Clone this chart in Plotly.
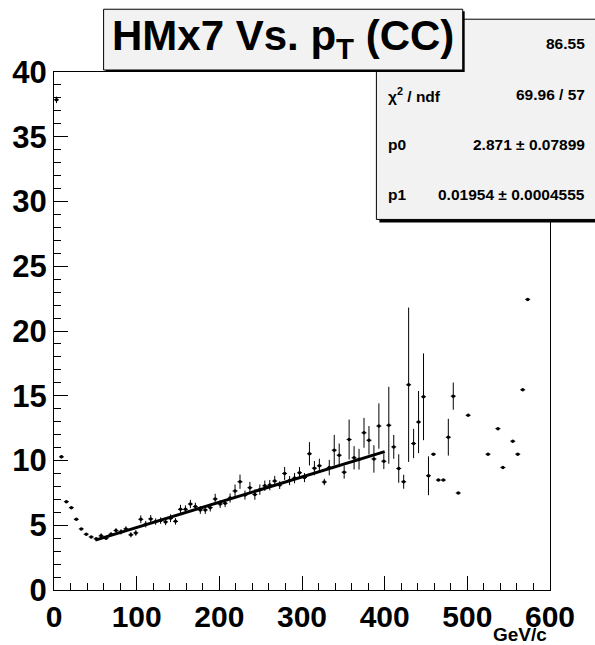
import numpy as np
import plotly.graph_objects as go

# ---- data (bin centres in GeV/c, HMx7 mean, error) ----
pt_center = [3, 9, 15, 21, 27, 33, 39, 45, 51, 57, 63, 69, 75, 81, 87, 93, 99, 105, 111, 117,
             123, 129, 135, 141, 147, 153, 159, 165, 171, 177, 183, 189, 195, 201, 207, 213, 219, 225, 231, 237,
             243, 249, 255, 261, 267, 273, 279, 285, 291, 297, 303, 309, 315, 321, 327, 333, 339, 345, 351, 357,
             363, 369, 375, 381, 387, 393, 399, 405, 411, 417, 423, 429, 435, 441, 447, 453, 459, 465, 471, 477,
             483, 489, 501, 525, 537, 543, 555, 561, 567, 573]
hmx7 = [37.85, 10.28, 6.82, 6.36, 5.46, 4.72, 4.31, 4.10, 3.95, 4.18, 4.00, 4.31, 4.59, 4.49, 4.72, 4.26, 4.41, 5.46, 5.08, 5.49,
        5.28, 5.36, 5.26, 5.54, 5.30, 6.23, 6.23, 6.64, 6.44, 6.18, 6.18, 6.36, 7.03, 6.64, 6.70, 7.10, 7.65, 8.36, 7.33, 7.90,
        7.37, 7.75, 8.05, 8.10, 8.41, 8.10, 9.00, 8.45, 8.64, 9.05, 8.68, 10.52, 9.41, 9.59, 8.34, 9.45, 10.80, 10.41, 9.10, 11.62,
        10.21, 10.10, 12.14, 11.56, 10.12, 12.66, 9.94, 12.72, 11.05, 9.38, 8.36, 15.85, 11.31, 12.97, 14.92, 8.82, 10.49, 8.49, 8.49, 11.80,
        14.97, 7.49, 13.49, 10.49, 12.46, 9.46, 11.49, 10.49, 15.46, 22.44]
hmx7_err = [0.25, 0.12, 0.08, 0.07, 0.06, 0.06, 0.05, 0.06, 0.08, 0.2, 0.12, 0.15, 0.18, 0.2, 0.2, 0.2, 0.22, 0.3, 0.25, 0.3,
            0.25, 0.25, 0.25, 0.3, 0.25, 0.35, 0.3, 0.32, 0.3, 0.3, 0.3, 0.3, 0.4, 0.3, 0.3, 0.35, 0.5, 0.55, 0.35, 0.45,
            0.4, 0.4, 0.4, 0.4, 0.4, 0.3, 0.5, 0.35, 0.4, 0.45, 0.35, 0.9, 0.55, 0.55, 0.25, 0.6, 1.18, 0.9, 0.5, 1.54,
            0.9, 0.8, 1.15, 1.1, 1.06, 1.75, 0.6, 2.97, 0.92, 1.1, 0.54, 5.96, 1.13, 2.4, 3.35, 1.5, 0.0, 0.0, 0.0, 1.42,
            1.05, 0.0, 0.0, 0.0, 0.0, 0.0, 0.0, 0.0, 0.0, 0.0]
bin_half_width = 3

# fit parameters
p0, p1 = 2.871, 0.01954
fit_range = [50, 400]

x_ticks = [0, 100, 200, 300, 400, 500, 600]
y_ticks = [0, 5, 10, 15, 20, 25, 30, 35, 40]

stats_rows = [("", "86.55"),
              ("\u03c7<sup>2</sup> / ndf", "69.96 / 57"),
              ("p0", "2.871 \u00b1 0.07899"),
              ("p1", "0.01954 \u00b1 0.0004555")]
title_text = "<b>HMx7 Vs. p<sub>T</sub> (CC)</b>"
x_title = "<b>GeV/c</b>"

# ---- layout geometry (pixels) ----
W, H = 595, 645
L, R, T, B = 50, 550, 72, 592
FONT = "Liberation Sans, Arial, Helvetica, sans-serif"


def px(xp):
    return (xp - L) / (R - L)


def py(yp):
    return (B - yp) / (B - T)


fig = go.Figure()

fig.add_trace(go.Scatter(
    x=pt_center, y=hmx7, mode="markers",
    marker=dict(color="black", size=3.5, symbol="circle"),
    error_x=dict(type="constant", value=bin_half_width, color="black", thickness=1, width=0),
    error_y=dict(type="data", array=hmx7_err, color="black", thickness=1, width=0),
    showlegend=False, hoverinfo="x+y"))

xf = np.linspace(fit_range[0], fit_range[1], 50)
fig.add_trace(go.Scatter(x=xf, y=p0 + p1 * xf, mode="lines",
                         line=dict(color="black", width=3), showlegend=False))

axis_common = dict(showgrid=False, zeroline=False, showline=True, linecolor="black", linewidth=1,
                   mirror=True, ticks="inside", tickcolor="black", tickwidth=1, ticklen=14)

fig.update_xaxes(range=[0, 600], tickmode="array", tickvals=x_ticks,
                 ticktext=[str(v) for v in x_ticks],
                 tickfont=dict(family=FONT, size=30, color="black", weight="bold"),
                 minor=dict(dtick=20, ticks="inside", ticklen=7, tickcolor="black", tickwidth=1),
                 **axis_common)
fig.update_yaxes(range=[0, 40], tickmode="array", tickvals=y_ticks,
                 ticktext=[str(v) for v in y_ticks],
                 tickfont=dict(family=FONT, size=31, color="black", weight="bold"),
                 minor=dict(dtick=1, ticks="inside", ticklen=7, tickcolor="black", tickwidth=1),
                 **axis_common)

shapes = []
# stats box: shadow then box
sx0, sx1, sy0, sy1 = 375, 597, 19, 220
shapes.append(dict(type="rect", xref="paper", yref="paper", x0=px(sx0 + 3), x1=px(sx1 + 3),
                   y0=py(sy1 + 3), y1=py(sy0 + 3), fillcolor="black", line=dict(width=0), layer="above"))
shapes.append(dict(type="rect", xref="paper", yref="paper", x0=px(sx0), x1=px(sx1),
                   y0=py(sy1), y1=py(sy0), fillcolor="#f2f2f2", line=dict(color="black", width=1),
                   layer="above"))
# title box: shadow then box
tx0, tx1, ty0, ty1 = 100, 462, 9, 70
shapes.append(dict(type="rect", xref="paper", yref="paper", x0=px(tx0 + 2), x1=px(tx1 + 2),
                   y0=py(ty1 + 2), y1=py(ty0 + 2), fillcolor="black", line=dict(width=0), layer="above"))
shapes.append(dict(type="rect", xref="paper", yref="paper", x0=px(tx0), x1=px(tx1),
                   y0=py(ty1), y1=py(ty0), fillcolor="#f2f2f2", line=dict(color="black", width=1),
                   layer="above"))

annotations = []
annotations.append(dict(text=title_text, xref="paper", yref="paper", x=px((tx0 + tx1) / 2),
                        y=py((ty0 + ty1) / 2 - 1), xanchor="center", yanchor="middle", showarrow=False,
                        font=dict(family=FONT, size=42, color="black")))
row_y = [43, 95, 145, 195]
for (lab, val), yy in zip(stats_rows, row_y):
    if lab:
        annotations.append(dict(text="<b>" + lab + "</b>", xref="paper", yref="paper", x=px(385), y=py(yy),
                                xanchor="left", yanchor="middle", showarrow=False,
                                font=dict(family=FONT, size=15.5, color="black")))
    annotations.append(dict(text="<b>" + val + "</b>", xref="paper", yref="paper", x=px(587), y=py(yy),
                            xanchor="right", yanchor="middle", showarrow=False,
                            font=dict(family=FONT, size=15.5, color="black")))
annotations.append(dict(text=x_title, xref="paper", yref="paper", x=px(549), y=py(637),
                        xanchor="right", yanchor="middle", showarrow=False,
                        font=dict(family=FONT, size=19, color="black")))

fig.update_layout(width=W, height=H, margin=dict(l=L, r=W - R, t=T, b=H - B, pad=0),
                  paper_bgcolor="white", plot_bgcolor="white",
                  shapes=shapes, annotations=annotations, showlegend=False)

fig.write_html("out.html")
